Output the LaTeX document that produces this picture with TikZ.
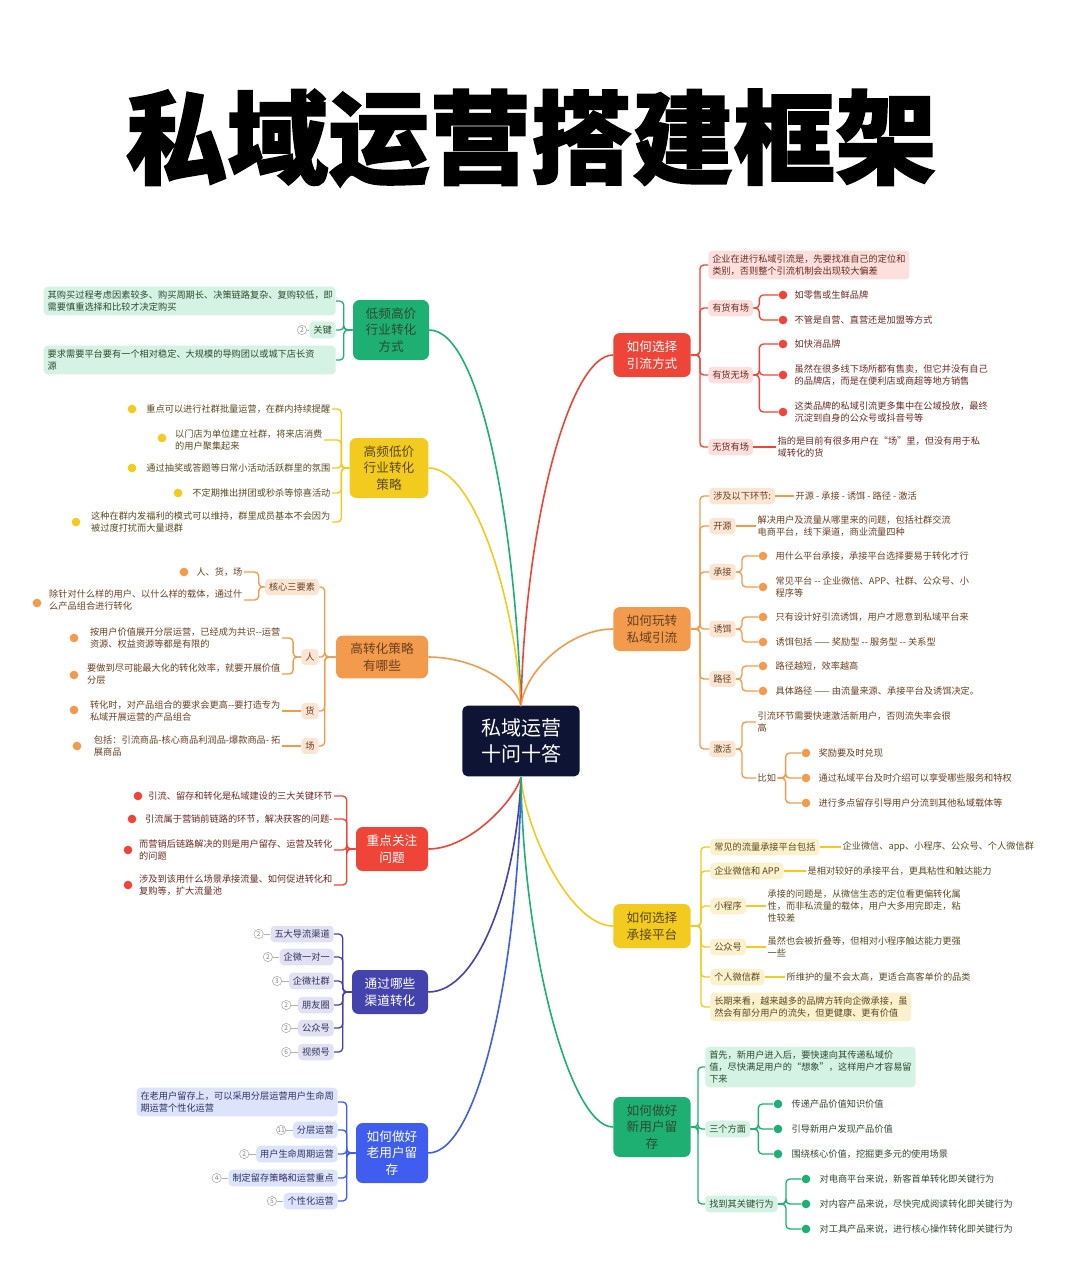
\documentclass[tikz,border=0pt]{standalone}
\usepackage{fontspec}
\usetikzlibrary{positioning}
\setmainfont{Noto Sans CJK SC}
\definecolor{cG}{HTML}{1DB072}\definecolor{cGl}{HTML}{D4F3E4}\definecolor{cGd}{HTML}{2F4A2E}
\definecolor{cY}{HTML}{F2CB1E}\definecolor{cYl}{HTML}{FBF1CC}\definecolor{cYd}{HTML}{5A4A20}
\definecolor{cO}{HTML}{F29B4C}\definecolor{cOl}{HTML}{FCE6D3}\definecolor{cOd}{HTML}{6A4020}
\definecolor{cR}{HTML}{EE4538}\definecolor{cRl}{HTML}{FDE0DD}\definecolor{cRd}{HTML}{6A2A22}
\definecolor{cI}{HTML}{4443AE}\definecolor{cIl}{HTML}{E1E1F3}\definecolor{cId}{HTML}{33335A}
\definecolor{cB}{HTML}{3F5EF0}\definecolor{cBl}{HTML}{DDE3FB}\definecolor{cBd}{HTML}{2A3366}
\definecolor{cN}{HTML}{0E1433}
\tikzset{
 lbl/.style={font=\fontsize{6.9}{9}\selectfont, align=left, inner sep=1pt},
 tag/.style={lbl, fill=#1, rounded corners=3pt, inner sep=3pt},
 mainb/.style={rounded corners=5pt, font=\fontsize{9.5}{12.5}\selectfont, text=white, align=center, fill=#1, minimum width=57pt},
 link/.style={line width=1pt, rounded corners=3pt},
 dotn/.style={circle, fill=#1, minimum size=6.5pt, inner sep=0pt},
 numc/.style={circle, draw=gray!70, text=gray, font=\fontsize{5}{5}\selectfont, minimum size=7pt, inner sep=0pt},
}
\begin{document}
\begin{tikzpicture}[x=0.75pt,y=-0.75pt]
\useasboundingbox (0,0) rectangle (1080,1265);
\node[font=\bfseries\fontsize{76}{80}\selectfont, draw=none] (title) at (531,138) {\special{pdf:literal direct 2 Tr 1.2 w}私域运营搭建框架\special{pdf:literal direct 0 Tr}};
\node[rounded corners=4pt, fill=cN, text=white, font=\fontsize{15}{19}\selectfont, align=center, minimum width=88pt, minimum height=53pt] (C) at (521,741) {私域运营\\十问十答};
% ===== main branches
\node[mainb=cG, text=cGd, minimum height=45pt] (G) at (391,330) {低频高价\\行业转化\\方式};
\node[mainb=cY, text=cYd, minimum height=45pt, minimum width=59pt] (Y) at (389,468) {高频低价\\行业转化\\策略};
\node[mainb=cO, text=cOd, minimum height=32pt, minimum width=69pt] (O) at (382,657) {高转化策略\\有哪些};
\node[mainb=cR, minimum height=33pt, minimum width=54pt] (R) at (392,849) {重点关注\\问题};
\node[mainb=cI, minimum height=33pt] (I) at (390,992) {通过哪些\\渠道转化};
\node[mainb=cB, minimum height=45pt, minimum width=54pt] (B) at (392,1153) {如何做好\\老用户留\\存};
\node[mainb=cR, minimum height=33pt, minimum width=58pt] (RR) at (652,355) {如何选择\\引流方式};
\node[mainb=cO, text=cOd, minimum height=33pt, minimum width=58pt] (RO) at (652,629) {如何玩转\\私域引流};
\node[mainb=cY, text=cYd, minimum height=33pt, minimum width=58pt] (RY) at (652,926) {如何选择\\承接平台};
\node[mainb=cG, text=cGd, minimum height=45pt, minimum width=58pt] (RG) at (652,1127) {如何做好\\新用户留\\存};
\coordinate (ct) at (521,706); \coordinate (cb) at (521,777);
\draw[line width=1.2pt,cG] (G.east) .. controls (480,330) and (515,520) .. (ct);
\draw[line width=1.2pt,cY] (Y.east) .. controls (475,468) and (515,600) .. (ct);
\draw[line width=1.2pt,cO] (O.east) .. controls (470,657) and (515,680) .. (ct);
\draw[line width=1.2pt,cR] (R.east) .. controls (470,849) and (515,800) .. (cb);
\draw[line width=1.2pt,cI] (I.east) .. controls (480,992) and (517,880) .. (cb);
\draw[line width=1.2pt,cB] (B.east) .. controls (480,1153) and (519,960) .. (cb);
\draw[line width=1.2pt,cR] (RR.west) .. controls (570,355) and (525,520) .. (ct);
\draw[line width=1.2pt,cO] (RO.west) .. controls (570,629) and (525,670) .. (ct);
\draw[line width=1.2pt,cY] (RY.west) .. controls (570,926) and (525,830) .. (cb);
\draw[line width=1.2pt,cG] (RG.west) .. controls (570,1127) and (523,950) .. (cb);
% ===== green left
\node[tag=cGl, text=cGd, anchor=east, text width=213pt] (g1) at (336,301) {其购买过程考虑因素较多、购买周期长、决策链路复杂、复购较低，即\\需要慎重选择和比较才决定购买};
\node[tag=cGl, text=cGd, anchor=east] (g2) at (336,330) {关键};
\node[numc] (g2n) at (302,330) {2};
\draw[gray!60] (g2n) -- (g2);
\node[tag=cGl, text=cGd, anchor=east, text width=213pt] (g3) at (336,360) {要求需要平台要有一个相对稳定、大规模的导购团以或城下店长资\\源};
\foreach \n in {g1,g2,g3} \draw[link,cG] (G.west) -- ++(-9,0) |- (\n.east);
% ===== yellow left
\node[lbl, text=cYd, anchor=east] (y1) at (332,409) {重点可以进行社群批量运营，在群内持续提醒};
\node[lbl, text=cYd, anchor=east] (y2) at (324,440) {以门店为单位建立社群，将来店消费\\的用户聚集起来};
\node[lbl, text=cYd, anchor=east] (y3) at (332,468) {通过抽奖或答题等日常小活动活跃群里的氛围};
\node[lbl, text=cYd, anchor=east] (y4) at (332,493) {不定期推出拼团或秒杀等惊喜活动};
\node[lbl, text=cYd, anchor=east] (y5) at (332,522) {这种在群内发福利的模式可以维持，群里成员基本不会因为\\被过度打扰而大量退群};
\node[dotn=cY] at (132,409) {}; \node[dotn=cY] at (162,438) {};
\node[dotn=cY] at (132,468) {}; \node[dotn=cY] at (178,493) {};
\node[dotn=cY] at (76,522) {};
\foreach \n in {y1,y2,y3,y4,y5} \draw[link,cY] (Y.west) -- ++(-8,0) |- (\n.east);
% ===== orange left
\node[tag=cOl, text=cOd] (o1) at (292,587) {核心三要素};
\node[tag=cOl, text=cOd] (o2) at (310,657) {人};
\node[tag=cOl, text=cOd] (o3) at (310,711) {货};
\node[tag=cOl, text=cOd] (o4) at (310,746) {场};
\foreach \n in {o1,o2,o3,o4} \draw[link,cO] (O.west) -- ++(-11,0) |- (\n.east);
\node[lbl, text=cOd, anchor=east] (o11) at (244,572) {人、货，场};
\node[lbl, text=cOd, anchor=east] (o12) at (244,600) {除针对什么样的用户、以什么样的载体，通过什\\么产品组合进行转化};
\node[lbl, text=cOd, anchor=east] (o21) at (282,638) {按用户价值展开分层运营，已经成为共识-{}-运营\\资源、权益资源等都是有限的};
\node[lbl, text=cOd, anchor=east] (o22) at (282,674) {要做到尽可能最大化的转化效率，就要开展价值\\分层};
\node[lbl, text=cOd, anchor=east] (o31) at (282,711) {转化时，对产品组合的要求会更高-{}-要打造专为\\私域开展运营的产品组合};
\node[lbl, text=cOd, anchor=east] (o41) at (282,746) {包括：引流商品-核心商品利润品-爆款商品- 拓\\展商品};
\node[dotn=cO] at (184,572) {}; \node[dotn=cO] at (37,603) {};
\node[dotn=cO] at (74,638) {}; \node[dotn=cO] at (74,675) {};
\node[dotn=cO] at (74,710) {}; \node[dotn=cO] at (77,746) {};
\foreach \n in {o11,o12} \draw[link,cO] (o1.west) -- ++(-6,0) |- (\n.east);
\foreach \n in {o21,o22} \draw[link,cO] (o2.west) -- ++(-8,0) |- (\n.east);
\draw[link,cO] (o3.west) -- (o31.east);
\draw[link,cO] (o4.west) -- (o41.east);
% ===== red left
\node[lbl, text=cRd, anchor=east] (r1) at (334,796) {引流、留存和转化是私域建设的三大关键环节};
\node[lbl, text=cRd, anchor=east] (r2) at (334,819) {引流属于营销前链路的环节，解决获客的问题-};
\node[lbl, text=cRd, anchor=east] (r3) at (334,850) {而营销后链路解决的则是用户留存、运营及转化\\的问题};
\node[lbl, text=cRd, anchor=east] (r4) at (334,885) {涉及到该用什么场景承接流量、如何促进转化和\\复购等，扩大流量池};
\node[dotn=cR] at (138,796) {}; \node[dotn=cR] at (132,819) {};
\node[dotn=cR] at (128,850) {}; \node[dotn=cR] at (128,885) {};
\foreach \n in {r1,r2,r3,r4} \draw[link,cR] (R.west) -- ++(-9,0) |- (\n.east);
% ===== indigo left
\foreach \n/\t/\y/\k in {i1/五大导流渠道/934/2,i2/企微一对一/957/2,i3/企微社群/981/3,i4/朋友圈/1005/2,i5/公众号/1028/2,i6/视频号/1052/6}{
 \node[tag=cIl, text=cId, anchor=east] (\n) at (334,\y) {\t};
 \node[numc, left=5pt of \n] (\n n) {\k};
 \draw[gray!60] (\n n) -- (\n);
 \draw[link,cI] (I.west) -- ++(-9,0) |- (\n.east);}
% ===== blue left
\node[tag=cBl, text=cBd, anchor=east] (b0) at (338,1102) {在老用户留存上，可以采用分层运营用户生命周\\期运营个性化运营};
\draw[link,cB] (B.west) -- ++(-9,0) |- (b0.east);
\foreach \n/\t/\y/\k in {b1/分层运营/1130/11,b2/用户生命周期运营/1154/2,b3/制定留存策略和运营重点/1178/4,b4/个性化运营/1201/5}{
 \node[tag=cBl, text=cBd, anchor=east] (\n) at (338,\y) {\t};
 \node[numc, left=5pt of \n] (\n n) {\k};
 \draw[gray!60] (\n n) -- (\n);
 \draw[link,cB] (B.west) -- ++(-9,0) |- (\n.east);}
% ===== right red
\node[tag=cRl, text=cRd, anchor=west] (rr0) at (708,265) {企业在进行私域引流是，先要找准自己的定位和\\类别，否则整个引流机制会出现较大偏差};
\node[tag=cRl, text=cRd, anchor=west] (rr1) at (708,308) {有货有场};
\node[tag=cRl, text=cRd, anchor=west] (rr2) at (708,375) {有货无场};
\node[tag=cRl, text=cRd, anchor=west] (rr3) at (708,447) {无货有场};
\foreach \n in {rr0,rr1,rr2,rr3} \draw[link,cR] (RR.east) -- ++(9,0) |- (\n.west);
\foreach \n/\y/\t in {a1/295/如零售或生鲜品牌,a2/320/不管是自营、直营还是加盟等方式}{
 \node[dotn=cR] (\n) at (783,\y) {};
 \node[lbl, text=cRd, anchor=west] at (793,\y) {\t};
 \draw[link,cR] (rr1.east) -- ++(6,0) |- (\n.west);}
\foreach \n/\y/\t in {a3/344/如快消品牌,a4/375/{虽然在很多线下场所都有售卖，但它并没有自己\\的品牌店，而是在便利店或商超等地方销售},a5/412/{这类品牌的私域引流更多集中在公域投放，最终\\沉淀到自身的公众号或抖音号等}}{
 \node[dotn=cR] (\n) at (783,\y) {};
 \node[lbl, text=cRd, anchor=west] at (793,\y) {\t};
 \draw[link,cR] (rr2.east) -- ++(6,0) |- (\n.west);}
\node[lbl, text=cRd, anchor=west] (a6) at (776,447) {指的是目前有很多用户在“场”里，但没有用于私\\域转化的货};
\draw[link,cR] (rr3.east) -- (a6.west);
% ===== right orange
\node[tag=cOl, text=cOd, anchor=west] (q1) at (709,496) {涉及以下环节:};
\node[tag=cOl, text=cOd, anchor=west] (q2) at (709,526) {开源};
\node[tag=cOl, text=cOd, anchor=west] (q3) at (709,572) {承接};
\node[tag=cOl, text=cOd, anchor=west] (q4) at (709,629) {诱饵};
\node[tag=cOl, text=cOd, anchor=west] (q5) at (709,679) {路径};
\node[tag=cOl, text=cOd, anchor=west] (q6) at (709,749) {激活};
\foreach \n in {q1,q2,q3,q4,q5,q6} \draw[link,cO] (RO.east) -- ++(9,0) |- (\n.west);
\node[lbl, text=cOd, anchor=west] (q1a) at (794,496) {开源 - 承接 - 诱饵 - 路径 - 激活};
\draw[link,cO] (q1.east) -- (q1a.west);
\node[lbl, text=cOd, anchor=west] (q2a) at (756,526) {解决用户及流量从哪里来的问题，包括社群交流\\电商平台，线下渠道，商业流量四种};
\draw[link,cO] (q2.east) -- (q2a.west);
\foreach \n/\y/\t/\p in {p1/556/用什么平台承接，承接平台选择要易于转化才行/q3,p2/587/{常见平台 -{}- 企业微信、APP、社群、公众号、小\\程序等}/q3,p3/617/只有设计好引流诱饵，用户才愿意到私域平台来/q4,p4/642/诱饵包括 —— 奖励型 -{}- 服务型 -{}- 关系型/q4,p5/666/路径越短，效率越高/q5,p6/691/具体路径 —— 由流量来源、承接平台及诱饵决定。/q5}{
 \node[dotn=cO] (\n) at (763,\y) {};
 \node[lbl, text=cOd, anchor=west] at (774,\y) {\t};
 \draw[link,cO] (\p.east) -- ++(6,0) |- (\n.west);}
\node[lbl, text=cOd, anchor=west] (q6a) at (756,722) {引流环节需要快速激活新用户，否则流失率会很\\高};
\node[lbl, text=cOd, anchor=west] (q6b) at (756,778) {比如};
\draw[link,cO] (q6.east) -- ++(6,0) |- (q6a.west);
\draw[link,cO] (q6.east) -- ++(6,0) |- (q6b.west);
\foreach \n/\y/\t in {s1/753/奖励要及时兑现,s2/778/通过私域平台及时介绍可以享受哪些服务和特权,s3/803/进行多点留存引导用户分流到其他私域载体等}{
 \node[dotn=cO] (\n) at (806,\y) {};
 \node[lbl, text=cOd, anchor=west] at (817,\y) {\t};
 \draw[link,cO] (q6b.east) -- ++(8,0) |- (\n.west);}
% ===== right yellow
\node[tag=cYl, text=cYd, anchor=west] (t1) at (710,847) {常见的流量承接平台包括};
\node[tag=cYl, text=cYd, anchor=west] (t2) at (710,871) {企业微信和 APP};
\node[tag=cYl, text=cYd, anchor=west] (t3) at (710,906) {小程序};
\node[tag=cYl, text=cYd, anchor=west] (t4) at (710,947) {公众号};
\node[tag=cYl, text=cYd, anchor=west] (t5) at (710,977) {个人微信群};
\node[tag=cYl, text=cYd, anchor=west] (t6) at (710,1007) {长期来看，越来越多的品牌方转向企微承接，虽\\然会有部分用户的流失，但更健康、更有价值};
\foreach \n in {t1,t2,t3,t4,t5,t6} \draw[link,cY] (RY.east) -- ++(10,0) |- (\n.west);
\node[lbl, text=cYd, anchor=west] (t1a) at (841,847) {企业微信、app、小程序、公众号、个人微信群};
\node[lbl, text=cYd, anchor=west] (t2a) at (806,871) {是相对较好的承接平台，更具粘性和触达能力};
\node[lbl, text=cYd, anchor=west] (t3a) at (766,906) {承接的问题是，从微信生态的定位看更偏转化属\\性，而非私流量的载体，用户大多用完即走，粘\\性较差};
\node[lbl, text=cYd, anchor=west] (t4a) at (766,947) {虽然也会被折叠等，但相对小程序触达能力更强\\一些};
\node[lbl, text=cYd, anchor=west] (t5a) at (785,977) {所维护的量不会太高，更适合高客单价的品类};
\foreach \n in {t1,t2,t3,t4,t5} \draw[link,cY] (\n.east) -- (\n a.west);
% ===== right green
\node[tag=cGl, text=cGd, anchor=west] (u0) at (705,1067) {首先，新用户进入后，要快速向其传递私域价\\值，尽快满足用户的“想象”，这样用户才容易留\\下来};
\node[tag=cGl, text=cGd, anchor=west] (u1) at (705,1129) {三个方面};
\node[tag=cGl, text=cGd, anchor=west] (u2) at (705,1204) {找到其关键行为};
\foreach \n in {u0,u1,u2} \draw[link,cG] (RG.east) -- ++(7,0) |- (\n.west);
\foreach \n/\y/\t in {v1/1104/传递产品价值知识价值,v2/1129/引导新用户发现产品价值,v3/1154/围绕核心价值，挖掘更多元的使用场景}{
 \node[dotn=cG] (\n) at (778,\y) {};
 \node[lbl, text=cGd, anchor=west] at (790,\y) {\t};
 \draw[link,cG] (u1.east) -- ++(8,0) |- (\n.west);}
\foreach \n/\y/\t in {w1/1179/对电商平台来说，新客首单转化即关键行为,w2/1204/对内容产品来说，尽快完成阅读转化即关键行为,w3/1229/对工具产品来说，进行核心操作转化即关键行为}{
 \node[dotn=cG] (\n) at (806,\y) {};
 \node[lbl, text=cGd, anchor=west] at (818,\y) {\t};
 \draw[link,cG] (u2.east) -- ++(8,0) |- (\n.west);}
\end{tikzpicture}
\end{document}
